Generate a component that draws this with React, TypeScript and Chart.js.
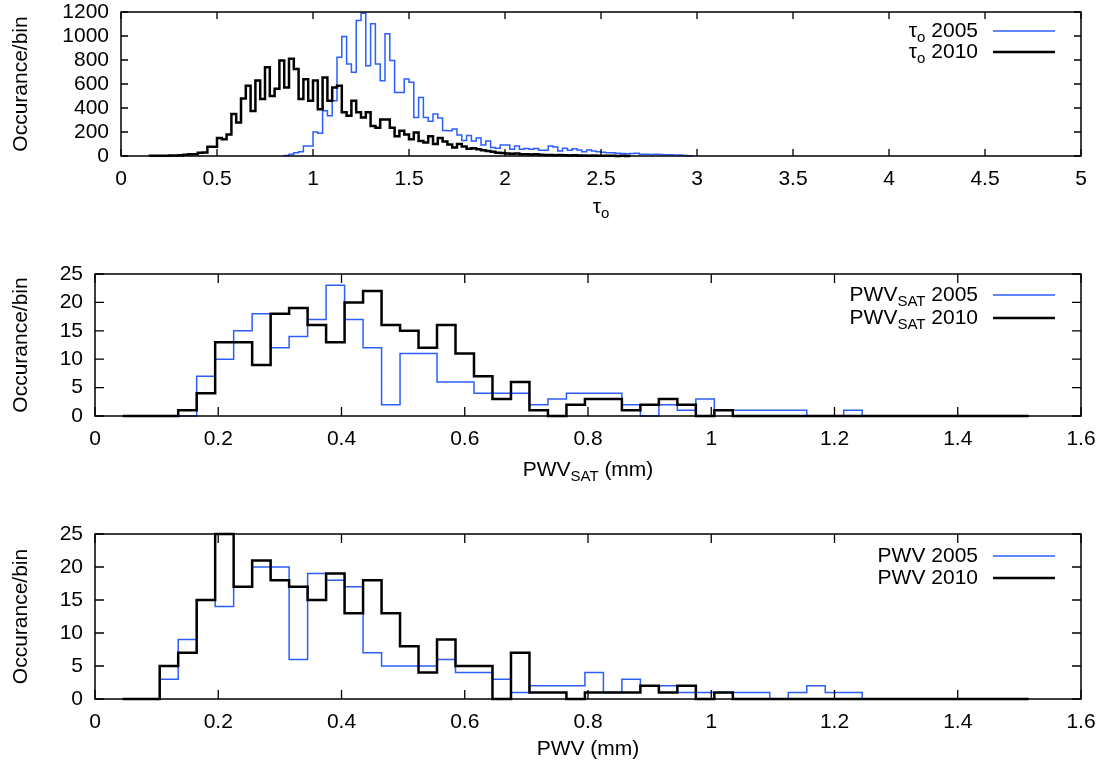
import React, { useEffect, useRef } from 'react';
import { Chart, registerables } from 'chart.js';

Chart.register(...registerables);

const FONT = '"Liberation Sans", Arial, Helvetica, sans-serif';
const BLUE = '#2b5dff';
const BLACK = '#000000';

// ---------- top panel: tau_o histograms (bin width 0.025) ----------
const TAU_BIN = 0.025;
const TAU2010_START = 0.15;
const TAU2010 = [
  2, 2, 3, 3, 4, 5, 7, 10, 14, 14,
  28, 30, 78, 78, 150, 140, 180, 350, 280, 480,
  585, 375, 630, 475, 740, 500, 560, 795, 570, 810,
  725, 475, 640, 460, 630, 390, 655, 460, 570, 585,
  365, 335, 460, 365, 320, 365, 250, 235, 305, 305,
  235, 165, 210, 180, 140, 195, 125, 112, 165, 100,
  150, 120, 95, 70, 100, 80, 60, 64, 56, 48,
  42, 35, 28, 25, 20, 18, 20, 14, 14, 12,
  14, 10, 8, 8, 6, 8, 6, 5, 6, 4,
  5, 3, 4, 3, 2, 3, 2, 1, 2, 1,
];
const TAU2005_START = 0.85;
const TAU2005 = [
  5, 14, 28, 35, 84, 84, 200, 190, 377, 335,
  460, 823, 996, 767, 698, 1130, 1190, 753, 1102, 767,
  628, 1018, 795, 530, 530, 642, 614, 321, 488, 321,
  290, 350, 316, 212, 210, 224, 175, 130, 170, 125,
  150, 92, 125, 70, 64, 92, 92, 56, 84, 56,
  62, 56, 62, 48, 48, 84, 75, 42, 64, 48,
  60, 50, 36, 50, 42, 36, 32, 28, 28, 22,
  20, 18, 20, 22, 15, 14, 12, 14, 12, 10,
  10, 8, 8, 5, 3,
];
const TAU_X_TICKS = [0, 0.5, 1, 1.5, 2, 2.5, 3, 3.5, 4, 4.5, 5];
const TAU_Y_TICKS = [0, 200, 400, 600, 800, 1000, 1200];

// ---------- PWV histograms (bin width 0.03, first edge 0.045) ----------
const PWV_BIN = 0.03;
const PWV_START = 0.045;
const PWVSAT_2005 = [
  0, 0, 0, 0, 7, 10, 15, 18, 12, 14,
  17, 23, 17, 12, 2, 11, 11, 6, 6, 4,
  4, 4, 2, 3, 4, 4, 4, 2, 0, 2,
  1, 3, 1, 1, 1, 1, 1, 0, 0, 1,
  0, 0, 0, 0, 0, 0, 0, 0, 0,
];
const PWVSAT_2010 = [
  0, 0, 0, 1, 4, 13, 13, 9, 18, 19,
  16, 13, 20, 22, 16, 15, 12, 16, 11, 7,
  3, 6, 1, 0, 2, 3, 3, 1, 2, 3,
  2, 0, 1, 0, 0, 0, 0, 0, 0, 0,
  0, 0, 0, 0, 0, 0, 0, 0, 0,
];
const PWV_2005 = [
  0, 0, 3, 9, 15, 14, 17, 20, 20, 6,
  19, 18, 17, 7, 5, 5, 5, 6, 4, 4,
  3, 1, 2, 2, 2, 4, 1, 3, 2, 2,
  1, 1, 1, 1, 1, 0, 1, 2, 1, 1,
  0, 0, 0, 0, 0, 0, 0, 0, 0,
];
const PWV_2010 = [
  0, 0, 5, 7, 15, 25, 17, 21, 18, 17,
  15, 19, 13, 18, 13, 8, 4, 9, 5, 5,
  0, 7, 1, 1, 0, 1, 1, 1, 2, 1,
  2, 0, 1, 0, 0, 0, 0, 0, 0, 0,
  0, 0, 0, 0, 0, 0, 0, 0, 0,
];
const PWV_X_TICKS = [0, 0.2, 0.4, 0.6, 0.8, 1, 1.2, 1.4, 1.6];
const PWV_Y_TICKS = [0, 5, 10, 15, 20, 25];

type Seg = { t: string; sub?: boolean };

function steps(start: number, width: number, vals: number[]) {
  const pts = [{ x: start, y: 0 }];
  vals.forEach((v, i) => pts.push({ x: start + i * width, y: v }));
  pts.push({ x: start + vals.length * width, y: 0 });
  return pts;
}

function drawRich(ctx: CanvasRenderingContext2D, segs: Seg[], x: number, y: number, align: 'left' | 'right' | 'center', size: number) {
  const subSize = Math.round(size * 0.72);
  const widths = segs.map((s) => {
    ctx.font = `${s.sub ? subSize : size}px ${FONT}`;
    return ctx.measureText(s.t).width;
  });
  const total = widths.reduce((a, b) => a + b, 0);
  let cx = align === 'right' ? x - total : align === 'center' ? x - total / 2 : x;
  ctx.textAlign = 'left';
  ctx.textBaseline = 'middle';
  segs.forEach((s, i) => {
    ctx.font = `${s.sub ? subSize : size}px ${FONT}`;
    ctx.fillText(s.t, cx, s.sub ? y + size * 0.32 : y);
    cx += widths[i];
  });
}

type PanelCfg = {
  top: number;
  height: number;
  xMax: number;
  xTicks: number[];
  yMax: number;
  yTicks: number[];
  yWidth: number;
  xHeight: number;
  padTop: number;
  tickLen: number;
  xTitle: Seg[];
  xTitleY: number;
  legend: { segs: Seg[]; color: string; lw: number; y: number }[];
  series: { data: { x: number; y: number }[]; color: string; lw: number; order: number }[];
};

const FS = 21;

function Panel({ cfg }: { cfg: PanelCfg }) {
  const ref = useRef<HTMLCanvasElement | null>(null);
  useEffect(() => {
    const canvas = ref.current!;
    const deco = {
      id: 'gnuplotDeco',
      afterDraw(chart: any) {
        const ctx: CanvasRenderingContext2D = chart.ctx;
        const a = chart.chartArea;
        const xs = chart.scales.x;
        const ys = chart.scales.y;
        ctx.save();
        ctx.strokeStyle = '#000';
        ctx.lineWidth = 1.5;
        ctx.strokeRect(a.left, a.top, a.right - a.left, a.bottom - a.top);
        ctx.lineWidth = 1.3;
        ctx.beginPath();
        cfg.xTicks.forEach((v) => {
          const px = xs.getPixelForValue(v);
          ctx.moveTo(px, a.bottom);
          ctx.lineTo(px, a.bottom - cfg.tickLen);
          ctx.moveTo(px, a.top);
          ctx.lineTo(px, a.top + cfg.tickLen);
        });
        cfg.yTicks.forEach((v) => {
          const py = ys.getPixelForValue(v);
          ctx.moveTo(a.left, py);
          ctx.lineTo(a.left + cfg.tickLen, py);
          ctx.moveTo(a.right, py);
          ctx.lineTo(a.right - cfg.tickLen, py);
        });
        ctx.stroke();
        ctx.fillStyle = '#000';
        // legend
        cfg.legend.forEach((l) => {
          drawRich(ctx, l.segs, 978, l.y, 'right', FS);
          ctx.strokeStyle = l.color;
          ctx.lineWidth = l.lw;
          ctx.beginPath();
          ctx.moveTo(993, l.y);
          ctx.lineTo(1055, l.y);
          ctx.stroke();
        });
        // x title
        ctx.fillStyle = '#000';
        drawRich(ctx, cfg.xTitle, (a.left + a.right) / 2, cfg.xTitleY, 'center', FS);
        // y title
        ctx.translate(21, (a.top + a.bottom) / 2);
        ctx.rotate(-Math.PI / 2);
        ctx.font = `${FS}px ${FONT}`;
        ctx.textAlign = 'center';
        ctx.textBaseline = 'middle';
        ctx.fillText('Occurance/bin', 0, 0);
        ctx.restore();
      },
    };
    const fmt = (v: any) => String(Math.round(Number(v) * 100) / 100);
    const chart = new Chart(canvas, {
      type: 'line',
      data: {
        datasets: cfg.series.map((s) => ({
          data: s.data,
          borderColor: s.color,
          borderWidth: s.lw,
          pointRadius: 0,
          stepped: 'before' as const,
          fill: false,
          order: s.order,
          clip: 4,
        })),
      },
      options: {
        animation: false,
        responsive: false,
        devicePixelRatio: 1,
        parsing: false as any,
        layout: { padding: { left: 0, right: 23, top: cfg.padTop, bottom: 0 } },
        plugins: { legend: { display: false }, tooltip: { enabled: false } },
        scales: {
          x: {
            type: 'linear',
            min: 0,
            max: cfg.xMax,
            afterBuildTicks: (s: any) => {
              s.ticks = cfg.xTicks.map((v) => ({ value: v }));
            },
            afterFit: (s: any) => {
              s.height = cfg.xHeight;
              s.paddingLeft = 0;
              s.paddingRight = 0;
            },
            grid: { display: false, drawTicks: false },
            border: { display: false },
            ticks: {
              autoSkip: false,
              maxRotation: 0,
              padding: 11,
              color: '#000',
              font: { family: FONT, size: FS },
              callback: fmt,
            },
          },
          y: {
            type: 'linear',
            min: 0,
            max: cfg.yMax,
            afterBuildTicks: (s: any) => {
              s.ticks = cfg.yTicks.map((v) => ({ value: v }));
            },
            afterFit: (s: any) => {
              s.width = cfg.yWidth;
              s.paddingTop = 0;
              s.paddingBottom = 0;
            },
            grid: { display: false, drawTicks: false },
            border: { display: false },
            ticks: {
              autoSkip: false,
              padding: 12,
              color: '#000',
              font: { family: FONT, size: FS },
              callback: fmt,
            },
          },
        },
      },
      plugins: [deco],
    });
    return () => chart.destroy();
  }, [cfg]);
  return (
    <canvas
      ref={ref}
      width={1104}
      height={cfg.height}
      style={{ position: 'absolute', left: 0, top: cfg.top, width: 1104, height: cfg.height }}
    />
  );
}

const PANELS: PanelCfg[] = [
  {
    top: 0,
    height: 230,
    xMax: 5,
    xTicks: TAU_X_TICKS,
    yMax: 1200,
    yTicks: TAU_Y_TICKS,
    yWidth: 121,
    xHeight: 74,
    padTop: 12,
    tickLen: 7,
    xTitle: [{ t: 'τ' }, { t: 'o', sub: true }],
    xTitleY: 207,
    legend: [
      { segs: [{ t: 'τ' }, { t: 'o', sub: true }, { t: ' 2005' }], color: BLUE, lw: 1.5, y: 31 },
      { segs: [{ t: 'τ' }, { t: 'o', sub: true }, { t: ' 2010' }], color: BLACK, lw: 2.5, y: 52 },
    ],
    series: [
      { data: steps(TAU2005_START, TAU_BIN, TAU2005), color: BLUE, lw: 1.5, order: 1 },
      { data: steps(TAU2010_START, TAU_BIN, TAU2010), color: BLACK, lw: 2.5, order: 0 },
    ],
  },
  {
    top: 230,
    height: 260,
    xMax: 1.6,
    xTicks: PWV_X_TICKS,
    yMax: 25,
    yTicks: PWV_Y_TICKS,
    yWidth: 95,
    xHeight: 74,
    padTop: 44,
    tickLen: 9,
    xTitle: [{ t: 'PWV' }, { t: 'SAT', sub: true }, { t: ' (mm)' }],
    xTitleY: 240,
    legend: [
      { segs: [{ t: 'PWV' }, { t: 'SAT', sub: true }, { t: ' 2005' }], color: BLUE, lw: 1.5, y: 65 },
      { segs: [{ t: 'PWV' }, { t: 'SAT', sub: true }, { t: ' 2010' }], color: BLACK, lw: 2.5, y: 88 },
    ],
    series: [
      { data: steps(PWV_START, PWV_BIN, PWVSAT_2005), color: BLUE, lw: 1.5, order: 1 },
      { data: steps(PWV_START, PWV_BIN, PWVSAT_2010), color: BLACK, lw: 2.5, order: 0 },
    ],
  },
  {
    top: 490,
    height: 278,
    xMax: 1.6,
    xTicks: PWV_X_TICKS,
    yMax: 25,
    yTicks: PWV_Y_TICKS,
    yWidth: 95,
    xHeight: 69,
    padTop: 44,
    tickLen: 9,
    xTitle: [{ t: 'PWV (mm)' }],
    xTitleY: 259,
    legend: [
      { segs: [{ t: 'PWV 2005' }], color: BLUE, lw: 1.5, y: 66 },
      { segs: [{ t: 'PWV 2010' }], color: BLACK, lw: 2.5, y: 88 },
    ],
    series: [
      { data: steps(PWV_START, PWV_BIN, PWV_2005), color: BLUE, lw: 1.5, order: 1 },
      { data: steps(PWV_START, PWV_BIN, PWV_2010), color: BLACK, lw: 2.5, order: 0 },
    ],
  },
];

export default function App() {
  return (
    <div style={{ position: 'absolute', left: 0, top: 0, width: 1104, height: 768, background: '#fff' }}>
      {PANELS.map((p, i) => (
        <Panel key={i} cfg={p} />
      ))}
    </div>
  );
}
